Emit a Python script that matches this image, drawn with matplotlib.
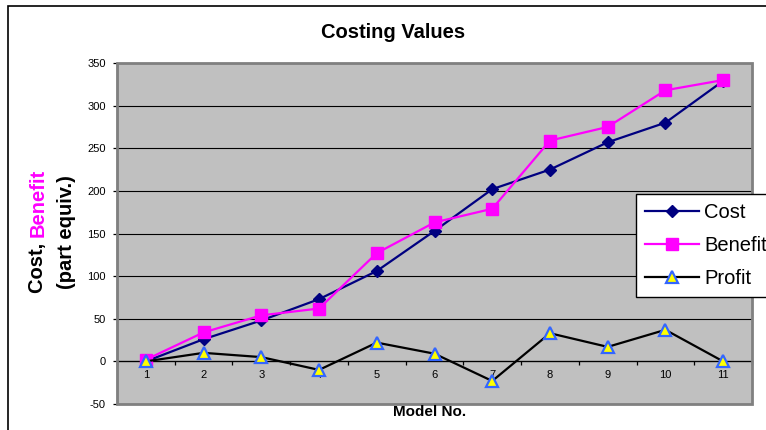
import numpy as np
import matplotlib
matplotlib.use('Agg')
import matplotlib.pyplot as plt
from matplotlib.patches import Rectangle

plt.rcParams['font.family'] = ['Liberation Sans', 'DejaVu Sans']
plt.rcParams['axes.unicode_minus'] = False

# data
models = [1, 2, 3, 4, 5, 6, 7, 8, 9, 10, 11]
cost = [0, 26, 48, 73, 106, 153, 202, 225, 257, 280, 329]
benefit = [2, 34, 54, 62, 127, 163, 179, 259, 275, 318, 330]
profit = [0, 10, 5, -10, 22, 9, -23, 33, 17, 37, 0]
yticks = [-50, 0, 50, 100, 150, 200, 250, 300, 350]

W, H = 766, 430
fig = plt.figure(figsize=(W / 100, H / 100), dpi=100)

# chart area border
fig.patches.append(Rectangle((8 / W, -0.1), 1.2, 1.1 - 6 / H, transform=fig.transFigure,
                             fill=False, edgecolor='black', lw=1.2))

ax = fig.add_axes([117 / W, 1 - 404 / H, (752 - 117) / W, (404 - 63) / H])
ax.set_facecolor('#C0C0C0')

ax.plot(models, cost, color='#000080', lw=1.6, marker='D', ms=6.5,
        mfc='#000080', mec='#000080', label='Cost', zorder=3)
ax.plot(models, benefit, color='#FF00FF', lw=1.6, marker='s', ms=8,
        mfc='#FF00FF', mec='#FF00FF', label='Benefit', zorder=4)
ax.plot(models, profit, color='black', lw=1.6, marker='^', ms=8.5,
        mfc='#FFFF00', mec='#3366FF', mew=1.6, label='Profit', zorder=5)

ax.set_xlim(0.5, 11.5)
ax.set_ylim(-50, 350)
ax.set_yticks(yticks)
ax.yaxis.grid(True, color='black', lw=0.8)
ax.set_axisbelow(True)

# category axis sits at y=0
ax.spines['bottom'].set_position(('data', 0))
ax.spines['bottom'].set_color('black')
ax.spines['bottom'].set_linewidth(0.9)
ax.spines['left'].set_color('black')
ax.spines['left'].set_linewidth(0.9)
ax.spines['top'].set_visible(False)
ax.spines['right'].set_visible(False)
ax.add_patch(Rectangle((0, 0), 1, 1, transform=ax.transAxes, fill=False,
                       edgecolor='#808080', lw=2, zorder=10, clip_on=False))

ax.set_xticks(models)
ax.set_xticks(np.arange(0.5, 12, 1), minor=True)
ax.tick_params(axis='x', which='major', length=0, pad=6, labelsize=8)
ax.tick_params(axis='x', which='minor', length=3, width=0.9, direction='out')
ax.tick_params(axis='y', length=3, width=0.9, direction='out', pad=5, labelsize=8)

fig.text(393 / W, 1 - 33 / H, 'Costing Values', ha='center', va='center',
         fontsize=14.5, fontweight='bold')
fig.text(430 / W, 1 - 412 / H, 'Model No.', ha='center', va='center',
         fontsize=11, fontweight='bold')

# two-colour y label
fig.text(38 / W, 1 - 237 / H, 'Cost, ', rotation=90, ha='center', va='top',
         fontsize=14.5, fontweight='bold', color='black')
fig.text(38 / W, 1 - 237 / H, 'Benefit', rotation=90, ha='center', va='bottom',
         fontsize=14.5, fontweight='bold', color='#FF00FF')
fig.text(67 / W, 1 - 232 / H, '(part equiv.)', rotation=90, ha='center', va='center',
         fontsize=14.5, fontweight='bold')

leg = fig.legend(loc='upper left', bbox_to_anchor=(636 / W, 1 - 194 / H),
                 fontsize=14.5, frameon=True, fancybox=False, framealpha=1,
                 edgecolor='black', handlelength=2.7, handletextpad=0.25,
                 borderpad=0.45, labelspacing=0.7, borderaxespad=0)
leg.get_frame().set_linewidth(1)

fig.savefig('out.png', dpi=100)
